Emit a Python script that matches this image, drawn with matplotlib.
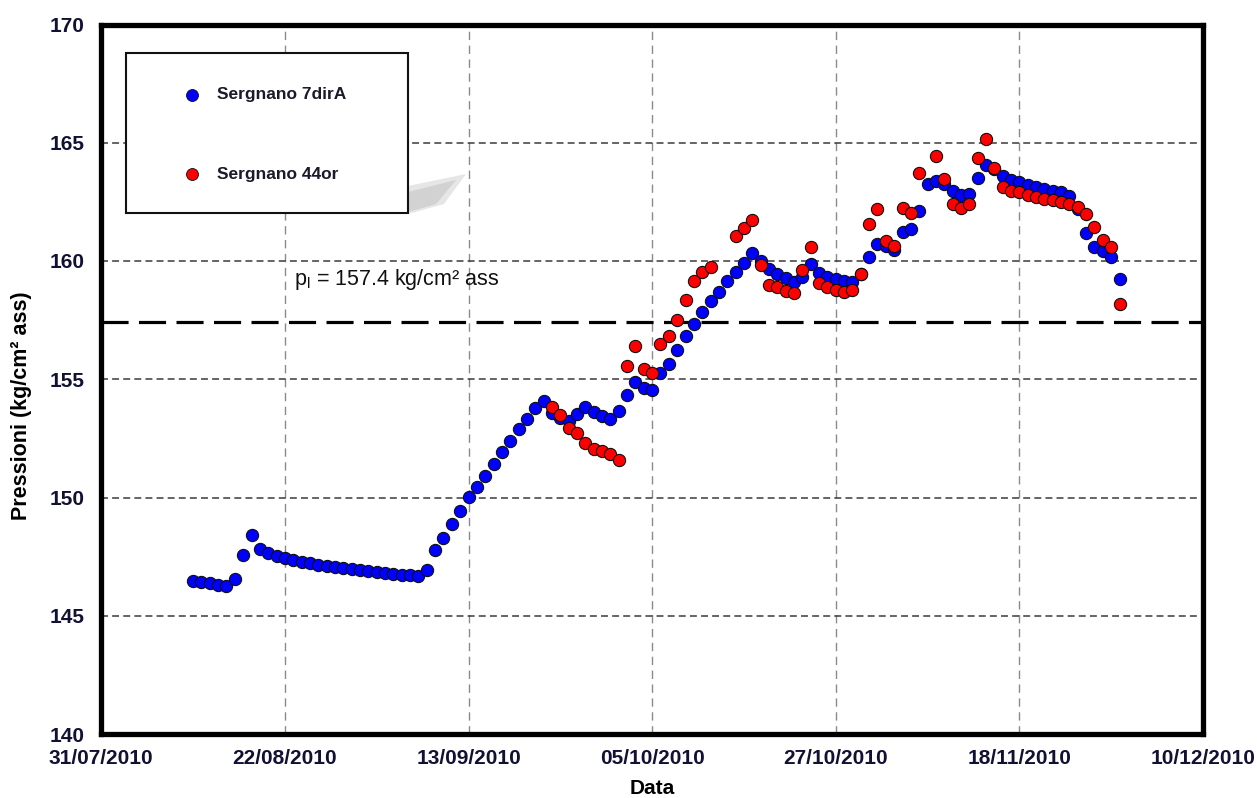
import datetime as dt
import numpy as np
import matplotlib
matplotlib.use("Agg")
import matplotlib.pyplot as plt
import matplotlib.dates as mdates
from matplotlib.patches import Rectangle, Polygon
import matplotlib.patheffects as pe

# ---------------- data ----------------
blue_label = "Sergnano 7dirA"
red_label = "Sergnano 44or"
blue_start = "2010-08-11"
red_start = "2010-09-23"

blue_values = [
    146.48, 146.43, 146.38, 146.31, 146.25, 146.57, 147.58, 148.40, 147.81, 147.67,
    147.54, 147.45, 147.36, 147.29, 147.22, 147.16, 147.11, 147.07, 147.02, 146.98,
    146.94, 146.90, 146.86, 146.81, 146.77, 146.74, 146.71, 146.69, 146.92, 147.80,
    148.29, 148.89, 149.45, 150.02, 150.46, 150.91, 151.41, 151.93, 152.40, 152.88,
    153.33, 153.77, 154.08, 153.58, 153.35, 153.25, 153.51, 153.81, 153.62, 153.44,
    153.30, 153.64, 154.33, 154.89, 154.64, 154.54, 155.27, 155.66, 156.22, 156.83,
    157.35, 157.85, 158.29, 158.71, 159.17, 159.52, 159.90, 160.34, 160.02, 159.66,
    159.45, 159.29, 159.13, 159.34, 159.88, 159.50, 159.34, 159.24, 159.14, 159.10,
    159.45, 160.15, 160.72, 160.65, 160.48, 161.21, 161.35, 162.12, 163.27, 163.39,
    163.25, 162.97, 162.78, 162.82, 163.53, 164.06, 163.90, 163.60, 163.43, 163.32,
    163.22, 163.11, 163.04, 162.97, 162.90, 162.76, 162.20, 161.17, 160.58, 160.41,
    160.19, 159.25,
]

red_values = [
    153.84, 153.49, 152.95, 152.71, 152.29, 152.05, 151.97, 151.84, 151.59, 155.56,
    156.41, 155.42, 155.25, 156.48, 156.83, 157.52, 158.36, 159.17, 159.54, 159.73,
    None, None, 161.06, 161.38, 161.74, 159.85, 159.00, 158.89, 158.75, 158.64,
    159.62, 160.58, 159.08, 158.89, 158.78, 158.68, 158.78, 159.43, 161.56, 162.20,
    160.86, 160.62, 162.24, 162.05, 163.74, None, 164.44, 163.46, 162.41, 162.23,
    162.41, 164.37, 165.15, 163.95, 163.11, 162.97, 162.90, 162.80, 162.71, 162.64,
    162.57, 162.50, 162.43, 162.29, 161.98, 161.42, 160.90, 160.58, 158.19,
]

threshold = 157.4
threshold_text = "p$_\\mathregular{l}$ = 157.4 kg/cm\u00b2 ass"
x_ticks = ["2010-07-31", "2010-08-22", "2010-09-13", "2010-10-05",
           "2010-10-27", "2010-11-18", "2010-12-10"]
y_ticks = [140, 145, 150, 155, 160, 165, 170]
x_label = "Data"
y_label = "Pressioni (kg/cm\u00b2 ass)"

# --------------- build ----------------
def dates_from(start, n):
    d0 = dt.datetime.strptime(start, "%Y-%m-%d")
    return [d0 + dt.timedelta(days=i) for i in range(n)]

blue_dates = dates_from(blue_start, len(blue_values))
red_dates = dates_from(red_start, len(red_values))
red_arr = np.array([np.nan if v is None else v for v in red_values], dtype=float)
tick_dates = [dt.datetime.strptime(s, "%Y-%m-%d") for s in x_ticks]

plt.rcParams["font.family"] = ["Liberation Sans", "DejaVu Sans"]
plt.rcParams["lines.scale_dashes"] = False

W, H = 1257, 798
fig = plt.figure(figsize=(W / 100, H / 100), dpi=100)
L, R, T, B = 101.3, 1203.0, 24.5, 734.0
ax = fig.add_axes([L / W, 1 - B / H, (R - L) / W, (B - T) / H])

ax.set_xlim(tick_dates[0], tick_dates[-1])
ax.set_ylim(y_ticks[0], y_ticks[-1])
ax.set_xticks(tick_dates)
ax.xaxis.set_major_formatter(mdates.DateFormatter("%d/%m/%Y"))
ax.set_yticks(y_ticks)


def fx(px):
    return (px - L) / (R - L)


def fy(py):
    return (B - py) / (B - T)


# grid lines
for d in tick_dates[1:-1]:
    ax.axvline(d, color="#8a8a8a", lw=1.0, dashes=(6, 4), zorder=1)
for y in y_ticks[1:-1]:
    ax.axhline(y, color="#3a3a3a", lw=1.1, dashes=(5, 3), zorder=1)

# threshold line
ax.axhline(threshold, color="black", lw=2.3, dashes=(19.5, 7.5), zorder=2)
ax.text(fx(294), fy(280), threshold_text, fontsize=15.5, transform=ax.transAxes,
        ha="left", va="center", color="#111111", zorder=3)

# data
ax.plot(blue_dates, blue_values, ls="none", marker="o", ms=8.8,
        mfc="#0000ff", mec="#101010", mew=0.8, zorder=4)
ax.plot(red_dates, red_arr, ls="none", marker="o", ms=8.8,
        mfc="#ff0000", mec="#101010", mew=0.8, zorder=5)

# ticks & labels
ax.tick_params(axis="both", length=0, labelsize=15)
ax.tick_params(axis="y", pad=12)
ax.tick_params(axis="x", pad=11)
for lab in ax.get_xticklabels() + ax.get_yticklabels():
    lab.set_fontweight("bold")
    lab.set_color("#111133")
ax.set_xlabel(x_label, fontsize=15, fontweight="bold")
ax.set_ylabel(y_label, fontsize=15.5, fontweight="bold")
ax.xaxis.set_label_coords(fx(652), fy(788), transform=ax.transAxes)
ax.xaxis.label.set_va("center")
ax.yaxis.set_label_coords(fx(22), fy(406), transform=ax.transAxes)
ax.yaxis.label.set_va("center")

# frame
for s in ax.spines.values():
    s.set_linewidth(3.8)
    s.set_color("black")
    s.set_path_effects([pe.SimplePatchShadow(offset=(2, -2), shadow_rgbFace="#9a9a9a", alpha=0.8),
                        pe.Normal()])

# legend (manual box)
shadow_layers = [("#e6e6e6", [(408, 186), (466, 174), (444, 204), (408, 214)]),
                 ("#d2d2d2", [(408, 192), (456, 180), (436, 204), (408, 212)])]
for col, pts in shadow_layers:
    ax.add_patch(Polygon([(fx(a), fy(b)) for a, b in pts], closed=True,
                         transform=ax.transAxes, facecolor=col, edgecolor="none",
                         zorder=6, clip_on=False))
box = Rectangle((fx(126), fy(213.3)), fx(408.3) - fx(126), fy(53.3) - fy(213.3),
                transform=ax.transAxes, facecolor="white", edgecolor="#111111", lw=1.5,
                zorder=7, clip_on=False)
ax.add_patch(box)
for lbl, col, py in [(blue_label, "#0000ff", 95), (red_label, "#ff0000", 174)]:
    ax.plot([fx(192)], [fy(py)], transform=ax.transAxes, marker="o", ms=8.6,
            mfc=col, mec="#101010", mew=0.6, ls="none", zorder=8, clip_on=False)
    ax.text(fx(217), fy(py), lbl, transform=ax.transAxes, fontsize=12.5,
            fontweight="bold", color="#1a1a2a", va="center", ha="left", zorder=8)

fig.savefig("out.png", dpi=100)
